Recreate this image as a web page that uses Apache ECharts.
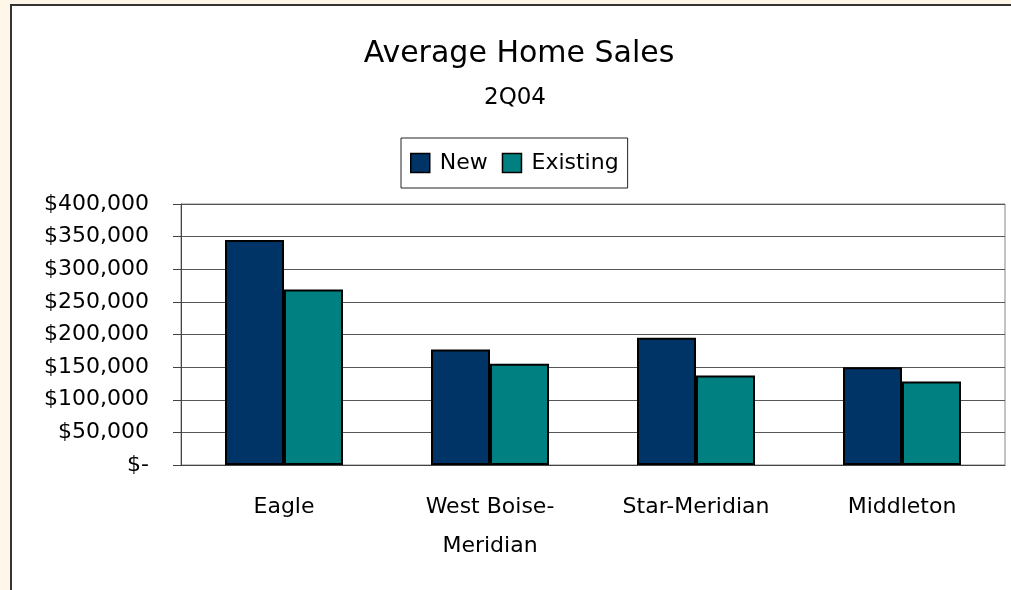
<!DOCTYPE html>
<html>
<head>
<meta charset="utf-8">
<script src="https://cdn.jsdelivr.net/npm/echarts@6/dist/echarts.min.js"></script>
<style>
  html, body { margin: 0; padding: 0; background: #fdf6e9; }
  #chart { width: 1011px; height: 590px; }
</style>
</head>
<body>
<div id="chart"></div>
<script>
// data
var categories = ['Eagle', 'West Boise-\nMeridian', 'Star-Meridian', 'Middleton'];
var newSales = [345000, 177000, 195000, 150000];
var existingSales = [269000, 155000, 137000, 128000];
var seriesNames = ['New', 'Existing'];
var yTicks = [0, 400000, 50000]; // min, max, step

var FONT = 'DejaVu Sans';

var myChart = echarts.init(document.getElementById('chart'));

// $400,000 style, zero shows as "$-"
function money(v) {
  if (v == 0) return '$-';
  return '$' + v.toLocaleString('en-US');
}

var option = {
  backgroundColor: '#fdf6e9',
  animation: false,
  // white chart area with its dark edge on left/top
  graphic: [{
    type: 'rect',
    z: -10,
    silent: true,
    shape: { x: 11, y: 5, width: 1100, height: 700 },
    style: { fill: '#ffffff', stroke: '#333333', lineWidth: 2 }
  }],
  title: [{
    text: 'Average Home Sales',
    left: 519,
    textAlign: 'center',
    top: 34,
    padding: [5, 0, 5, 0],
    textStyle: { fontFamily: FONT, fontSize: 30, fontWeight: 'normal', color: '#000' }
  }, {
    text: '2Q04',
    left: 515,
    textAlign: 'center',
    top: 82,
    padding: [5, 0, 5, 0],
    textStyle: { fontFamily: FONT, fontSize: 23, fontWeight: 'normal', color: '#000' }
  }],
  legend: {
    data: seriesNames,
    icon: 'rect',
    left: 401,
    top: 138,
    padding: [14, 9, 14, 9],
    itemWidth: 19,
    itemHeight: 19,
    itemGap: 14,
    borderColor: '#222',
    borderWidth: 1,
    backgroundColor: '#fff',
    itemStyle: { borderColor: '#000', borderWidth: 1.5 },
    textStyle: { fontFamily: FONT, fontSize: 22, color: '#000', padding: [0, 0, 0, 5] }
  },
  grid: {
    left: 181,
    right: 6,
    top: 204,
    bottom: 125,
    show: true,
    borderColor: '#888',
    borderWidth: 1,
    backgroundColor: 'transparent'
  },
  xAxis: {
    type: 'category',
    data: categories,
    axisLine: { lineStyle: { color: '#444', width: 1 } },
    axisTick: { length: 8, lineStyle: { color: '#444' } },
    axisLabel: {
      fontFamily: FONT, fontSize: 22, color: '#000',
      lineHeight: 39, margin: 23, interval: 0
    }
  },
  yAxis: {
    type: 'value',
    min: yTicks[0],
    max: yTicks[1],
    interval: yTicks[2],
    axisLine: { show: true, lineStyle: { color: '#444', width: 1 } },
    axisTick: { show: true, length: 8, lineStyle: { color: '#444' } },
    splitLine: { lineStyle: { color: '#555', width: 1 } },
    axisLabel: {
      fontFamily: FONT, fontSize: 22, color: '#000', margin: 32,
      formatter: money
    }
  },
  series: [{
    name: seriesNames[0],
    type: 'bar',
    data: newSales,
    barWidth: 59,
    barGap: '0%',
    itemStyle: { color: '#003366', borderColor: '#000', borderWidth: 2 }
  }, {
    name: seriesNames[1],
    type: 'bar',
    data: existingSales,
    barWidth: 59,
    barGap: '0%',
    itemStyle: { color: '#008080', borderColor: '#000', borderWidth: 2 }
  }]
};

myChart.setOption(option);

window.onresize = function() {
  myChart.resize();
};
</script>
</body>
</html>
